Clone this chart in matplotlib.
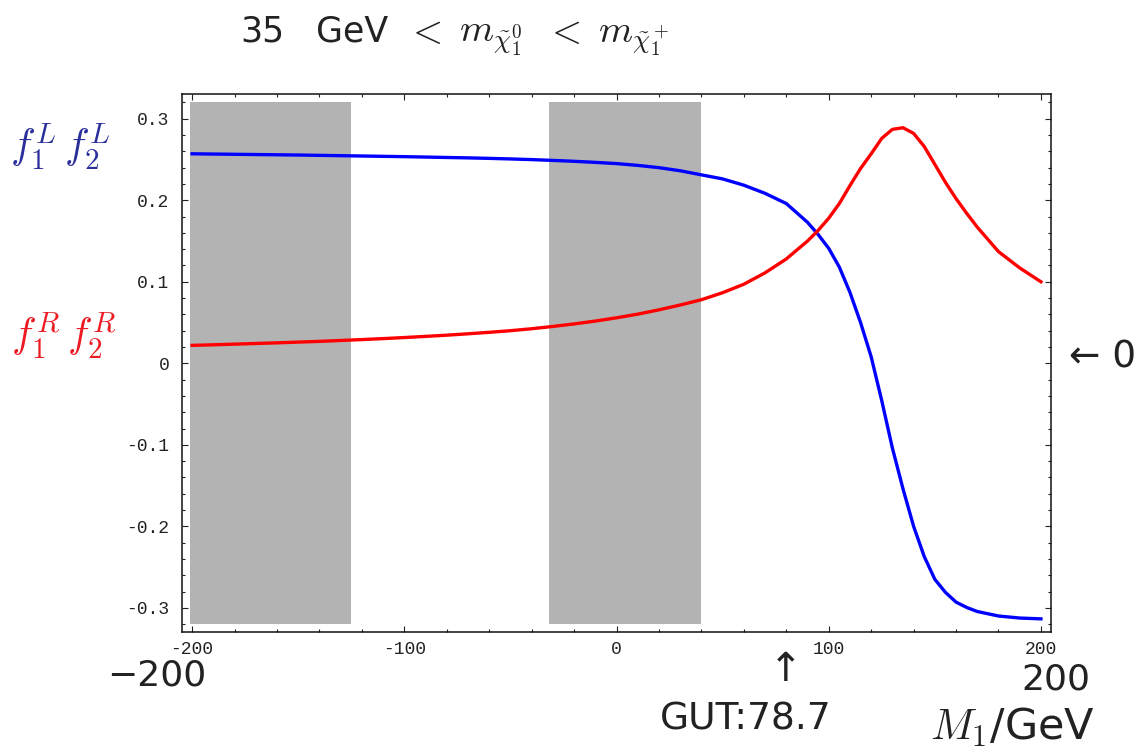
import numpy as np
import matplotlib
matplotlib.use("Agg")
from matplotlib import pyplot as plt
from matplotlib.ticker import MultipleLocator, FuncFormatter

# M1 scan (GeV) and the two coupling products
m1 = [-200, -190, -180, -170, -160, -150, -140, -130, -120, -110,
      -100, -90, -80, -70, -60, -50, -40, -30, -20, -10,
      0, 10, 20, 30, 40, 50, 60, 70, 80, 90,
      95, 100, 105, 110, 115, 120, 125, 130, 135, 140,
      145, 150, 155, 160, 165, 170, 180, 190, 200]

fL = [0.2570, 0.2567, 0.2564, 0.2561, 0.2558, 0.2555, 0.2551, 0.2547, 0.2543, 0.2539,
      0.2535, 0.2530, 0.2525, 0.2520, 0.2514, 0.2507, 0.2499, 0.2489, 0.2478, 0.2465,
      0.2450, 0.2428, 0.2400, 0.2362, 0.2312, 0.2262, 0.2185, 0.2085, 0.1960, 0.1730,
      0.1580, 0.1410, 0.1180, 0.0870, 0.0500, 0.0080, -0.0460, -0.1040, -0.1540, -0.2000,
      -0.2370, -0.2650, -0.2810, -0.2930, -0.2995, -0.3045, -0.3100, -0.3125, -0.3135]

fR = [0.0220, 0.0227, 0.0235, 0.0243, 0.0251, 0.0260, 0.0269, 0.0280, 0.0291, 0.0303,
      0.0316, 0.0330, 0.0345, 0.0362, 0.0380, 0.0400, 0.0424, 0.0452, 0.0483, 0.0518,
      0.0558, 0.0603, 0.0656, 0.0715, 0.0780, 0.0866, 0.0970, 0.1110, 0.1280, 0.1500,
      0.1630, 0.1780, 0.1960, 0.2180, 0.2390, 0.2570, 0.2760, 0.2870, 0.2890, 0.2820,
      0.2660, 0.2440, 0.2220, 0.2020, 0.1840, 0.1670, 0.1370, 0.1170, 0.1000]

# excluded M1 ranges
bands = [(-201, -125), (-32, 40)]
band_top = 0.32

gut_m1 = 78.7

plt.rcParams['mathtext.fontset'] = 'cm'
plt.rcParams['axes.unicode_minus'] = False
sans = ['DejaVu Sans']
ink = '#222222'

fig = plt.figure(figsize=(11.47, 7.49), dpi=100)
ax = fig.add_axes([0.1584, 0.1558, 0.9166 - 0.1584, 0.8741 - 0.1558])

for x0, x1 in bands:
    ax.fill_between([x0, x1], -band_top, band_top, color='#b3b3b3', lw=0, zorder=1)

ax.plot(m1, fL, color='#0000ff', lw=2.4, zorder=3)
ax.plot(m1, fR, color='#ff0000', lw=2.4, zorder=3)

ax.set_xlim(-204.9, 204.9)
ax.set_ylim(-0.33, 0.33)

ax.xaxis.set_major_locator(MultipleLocator(100))
ax.xaxis.set_minor_locator(MultipleLocator(20))
ax.yaxis.set_major_locator(MultipleLocator(0.1))
ax.yaxis.set_minor_locator(MultipleLocator(0.02))
ax.yaxis.set_major_formatter(FuncFormatter(lambda v, p: '%g' % round(v, 2)))
ax.xaxis.set_major_formatter(FuncFormatter(lambda v, p: '%g' % v))

ax.tick_params(which='both', direction='in', top=True, right=True, width=0.8,
               color=ink, labelcolor=ink)
ax.tick_params(which='major', length=4.2)
ax.tick_params(which='minor', length=2.4)
ax.tick_params(axis='x', pad=6)
ax.tick_params(axis='y', pad=9)
for lab in ax.get_xticklabels() + ax.get_yticklabels():
    lab.set_family('Liberation Mono')
    lab.set_fontsize(13)
for sp in ax.spines.values():
    sp.set_linewidth(1.1)
    sp.set_color('#111111')


def px(x, y, s, **kw):
    # place text in figure pixel coordinates (origin top-left)
    fig.text(x / 1147, 1 - y / 749, s, **kw)


# title, set piece by piece so it spreads like the original lettering
title_y = 42
px(262, title_y, "35", fontsize=25, family=sans, color=ink, ha='center', va='baseline')
px(352, title_y, "GeV", fontsize=25, family=sans, color=ink, ha='center', va='baseline')
px(424, title_y, r"$<$", fontsize=28, color=ink, ha='center', va='baseline')
px(491, title_y, r"$m_{\tilde{\chi}_1^0}$", fontsize=28, color=ink, ha='center', va='baseline')
px(563, title_y, r"$<$", fontsize=28, color=ink, ha='center', va='baseline')
px(634, title_y, r"$m_{\tilde{\chi}_1^+}$", fontsize=28, color=ink, ha='center', va='baseline')

px(60, 146, r"$f_1^L\,f_2^L$", fontsize=30, color='#2b2f9a', ha='center', va='center')
px(64, 335, r"$f_1^R\,f_2^R$", fontsize=30, color='#ed1c24', ha='center', va='center')

px(1103, 367, "\u2190 0", fontsize=27, family=sans, color=ink, ha='center', va='baseline')

px(157, 685, "\u2212200", fontsize=26, family=sans, color=ink, ha='center', va='baseline')
px(1056, 689, "200", fontsize=26, family=sans, color=ink, ha='center', va='baseline')

gx = 616.6 + gut_m1 * 2.1225
px(gx + 2, 681, "\u2191", fontsize=29, family=sans, color=ink, ha='center', va='baseline')
px(746, 729, "GUT:%.1f" % gut_m1, fontsize=27, family=sans, color=ink, ha='center', va='baseline')
px(1012, 740, r"$M_1$/GeV", fontsize=31, family=sans, color=ink, ha='center', va='baseline')

fig.savefig("out.png", dpi=100)
